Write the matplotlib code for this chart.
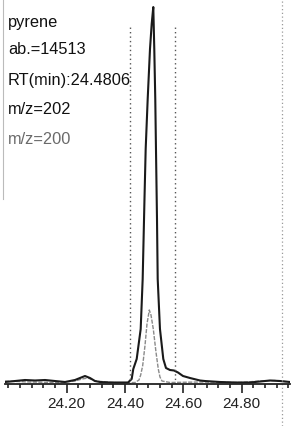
import matplotlib
matplotlib.use('Agg')
import matplotlib.pyplot as plt
from matplotlib.ticker import MultipleLocator, FixedLocator, FormatStrFormatter

# m/z 202 trace (time in min, abundance)
time_202 = [23.9885, 24.0228, 24.0571, 24.0914, 24.1257, 24.1599, 24.1942, 24.2285,
            24.2456, 24.2627, 24.2799, 24.2970, 24.3142, 24.3485, 24.3828, 24.4102,
            24.4228, 24.4283, 24.4400, 24.4537, 24.4605, 24.4667, 24.4708, 24.4777,
            24.4856, 24.4914, 24.4969, 24.5003, 24.5037, 24.5061, 24.5096, 24.5120,
            24.5198, 24.5312, 24.5404, 24.5541, 24.5679, 24.5816, 24.5987, 24.6227,
            24.6570, 24.6741, 24.7256, 24.7770, 24.8284, 24.8627, 24.8970, 24.9313,
            24.9656]
abund_202 = [77, 115, 154, 135, 154, 115, 77, 154,
             231, 308, 231, 115, 77, 58, 58, 58,
             193, 578, 963, 2118, 4043, 7123, 9048, 10973,
             12898, 13860, 14513, 12898, 10973, 9048, 6353, 4043,
             2118, 963, 616, 539, 520, 443, 308, 231,
             135, 115, 77, 58, 58, 96, 135, 115,
             77]

# m/z 200 trace
time_200 = [23.9885, 24.0742, 24.1770, 24.2285, 24.2525, 24.2731, 24.2970, 24.3828,
            24.4342, 24.4479, 24.4537, 24.4605, 24.4684, 24.4753, 24.4832, 24.4890,
            24.4969, 24.5061, 24.5140, 24.5198, 24.5267, 24.5541, 24.6570, 24.7942,
            24.8627, 24.9141, 24.9656]
abund_200 = [115, 77, 58, 115, 193, 231, 115, 39,
             58, 154, 347, 705, 1475, 2310, 2849, 2657,
             2118, 1232, 578, 270, 115, 58, 77, 58,
             115, 135, 77]

# x tick labels
major_ticks = [24.20, 24.40, 24.60, 24.80]

# integration limits
int_limits = [24.4187, 24.5714]
int_top = 13860

info_lines = ["pyrene", "ab.=14513", "RT(min):24.4806", "m/z=202", "m/z=200"]
info_colors = ["#111111", "#111111", "#111111", "#111111", "#6a6a6a"]

W, H = 297, 427
fig = plt.figure(figsize=(W / 100, H / 100), dpi=100)
fig.patch.set_facecolor('white')
ax = fig.add_axes([5 / W, (H - 385) / H, 285 / W, 385 / H])
ax.set_xlim(23.9885, 24.9656)
ax.set_ylim(0, 385 * 38.5)

for s in ['top', 'left', 'right']:
    ax.spines[s].set_visible(False)
ax.spines['bottom'].set_linewidth(1.3)
ax.spines['bottom'].set_color('#222222')

ax.plot(time_200, abund_200, color='#8a8a8a', lw=1.0, ls=(0, (3, 1)))
ax.plot(time_202, abund_202, color='#1a1a1a', lw=1.5)

for t in int_limits:
    ax.plot([t, t], [0, int_top], color='#555555', lw=1.0, ls=(0, (1, 2.2)))

# right border dotted line
ax.axvline(24.938, ymin=-0.11, ymax=1.0, color='#9a9a9a', lw=0.9,
           ls=(0, (1, 2)), clip_on=False)
# faint left border
ax.axvline(23.983, ymin=0.48, ymax=1.0, color='#bbbbbb', lw=0.8, clip_on=False)

ax.xaxis.set_major_locator(FixedLocator(major_ticks))
ax.xaxis.set_minor_locator(MultipleLocator(0.04))
ax.xaxis.set_major_formatter(FormatStrFormatter('%.2f'))
ax.tick_params(axis='x', which='major', length=6.5, width=1.2, pad=2.5,
               labelsize=11, colors='#222222')
ax.tick_params(axis='x', which='minor', length=3, width=1.2, colors='#222222')
ax.set_yticks([])
for lab in ax.get_xticklabels():
    lab.set_fontfamily('Liberation Sans')

ys = [22, 49, 80, 110, 140]
for txt, c, y in zip(info_lines, info_colors, ys):
    fig.text(8 / W, 1 - y / H, txt, color=c, fontsize=11.8,
             family='Liberation Sans', ha='left', va='center')

fig.savefig('out.png', dpi=100, facecolor='white')
